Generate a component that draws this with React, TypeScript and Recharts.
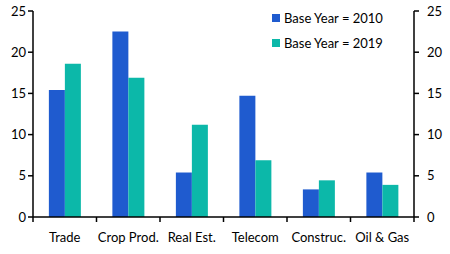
import { BarChart, Bar, XAxis, YAxis } from "recharts";

const categories = ["Trade", "Crop Prod.", "Real Est.", "Telecom", "Construc.", "Oil & Gas"];
const base2010 = [15.4, 22.5, 5.4, 14.7, 3.35, 5.4];
const base2019 = [18.6, 16.9, 11.2, 6.9, 4.45, 3.9];
const yTicks = [0, 5, 10, 15, 20, 25];
const seriesLabels = ["Base Year = 2010", "Base Year = 2019"];

const BLUE = "#1f5bcf";
const GREEN = "#0cb8a9";
const FONT = "Lato, 'Open Sans', sans-serif";

const data = categories.map((name, i) => ({ name, b2010: base2010[i], b2019: base2019[i] }));

function CatTick(props: any) {
  const { x, y, payload, index, visibleTicksCount, width } = props;
  const half = payload?.offset ?? width / visibleTicksCount / 2;
  const last = index === visibleTicksCount - 1;
  return (
    <g>
      <line x1={x - half} x2={x - half} y1={y} y2={y + 5} stroke="#000" strokeWidth={1.5} />
      {last && <line x1={x + half} x2={x + half} y1={y} y2={y + 5} stroke="#000" strokeWidth={1.5} />}
      <text x={x} y={y + 25} textAnchor="middle" fontSize={13} fontFamily={FONT} fill="#000">
        {payload.value}
      </text>
    </g>
  );
}

function LegendBox() {
  const colors = [BLUE, GREEN];
  return (
    <div style={{ position: "absolute", top: 5, left: 272, fontFamily: FONT, fontSize: 13, color: "#000" }}>
      {seriesLabels.map((label, i) => (
        <div key={label} style={{ display: "flex", alignItems: "center", height: 25 }}>
          <span style={{ width: 8, height: 8, background: colors[i], marginRight: 4, display: "inline-block" }} />
          {label}
        </div>
      ))}
    </div>
  );
}

export default function App() {
  const tickStyle = { fontSize: 13, fontFamily: FONT, fill: "#000" };
  return (
    <div style={{ position: "relative", width: 450, height: 254, background: "#fff" }}>
      <style>{"body{margin:0}"}</style>
      <BarChart
        width={450}
        height={254}
        data={data}
        margin={{ top: 11, right: 0, left: 0, bottom: 0 }}
        barCategoryGap="25%"
        barGap={0}
      >
        <XAxis
          dataKey="name"
          height={37}
          tickLine={false}
          tickSize={0}
          tickMargin={0}
          interval={0}
          axisLine={{ stroke: "#000", strokeWidth: 1.5 }}
          tick={<CatTick />}
        />
        <YAxis
          yAxisId="l"
          width={33}
          domain={[0, 25]}
          ticks={yTicks}
          tickSize={5}
          tickMargin={2}
          tick={tickStyle}
          axisLine={{ stroke: "#000", strokeWidth: 1.5 }}
          tickLine={{ stroke: "#000", strokeWidth: 1.5 }}
        />
        <YAxis
          yAxisId="r"
          orientation="right"
          width={36}
          domain={[0, 25]}
          ticks={yTicks}
          tickSize={5}
          tickMargin={8}
          tick={tickStyle}
          axisLine={{ stroke: "#000", strokeWidth: 1.5 }}
          tickLine={{ stroke: "#000", strokeWidth: 1.5 }}
        />
        <Bar yAxisId="l" dataKey="b2010" fill={BLUE} isAnimationActive={false} />
        <Bar yAxisId="r" dataKey="b2019" fill={GREEN} isAnimationActive={false} />
      </BarChart>
      <LegendBox />
    </div>
  );
}
